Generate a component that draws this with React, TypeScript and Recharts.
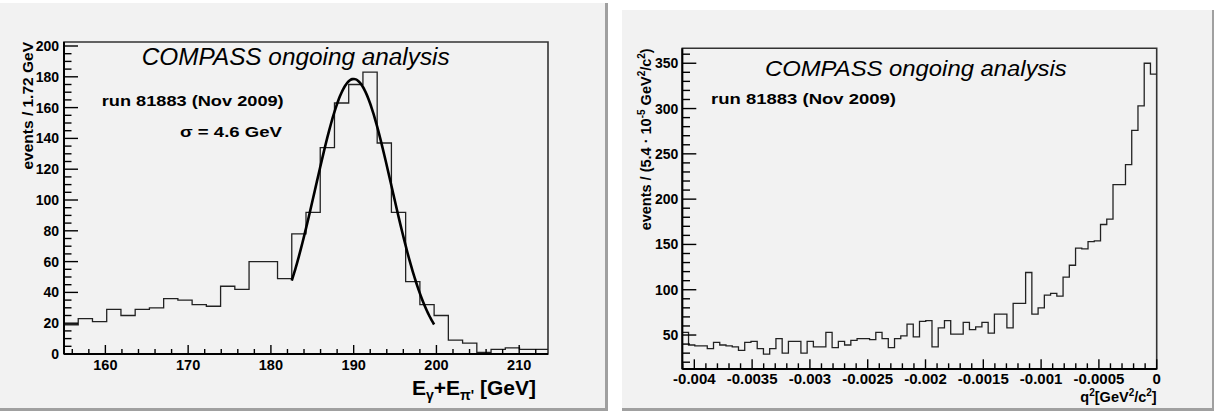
import React from 'react';
import { ComposedChart, Line, XAxis, YAxis, ReferenceArea } from 'recharts';

const FONT = '"Liberation Sans", Arial, Helvetica, sans-serif';

// ---------- Left histogram: E_gamma + E_pi' ----------
const E_BIN_START = 155;
const E_BIN_WIDTH = 1.72;
const E_COUNTS = [
  19, 23, 21, 29, 25, 29, 30, 36, 35, 32, 31, 44, 42, 60, 60, 49, 78, 92, 134,
  163, 175, 183, 137, 92, 47, 32, 25, 9, 7, 1, 3, 4, 3, 3,
];
const E_Y_MAX = 202.6;
const E_Y_TICKS = [0, 5, 10, 15, 20, 25, 30, 35, 40, 45, 50, 55, 60, 65, 70, 75, 80, 85, 90, 95, 100, 105, 110, 115, 120, 125, 130, 135, 140, 145, 150, 155, 160, 165, 170, 175, 180, 185, 190, 195, 200];
const E_X_TICKS = [156, 158, 160, 162, 164, 166, 168, 170, 172, 174, 176, 178, 180, 182, 184, 186, 188, 190, 192, 194, 196, 198, 200, 202, 204, 206, 208, 210, 212];

// Gaussian fit parameters (sigma = 4.6 GeV as printed on the plot)
const FIT_AMPLITUDE = 178.6;
const FIT_MEAN = 190.0;
const FIT_SIGMA = 4.6;
const FIT_FROM = 182.52;
const FIT_TO = 199.72;
const FIT_SAMPLES = 80;

// ---------- Right histogram: q^2 ----------
const Q_BIN_START = -0.004104;
const Q_BIN_WIDTH = 0.000054;
const Q_COUNTS = [
  53, 39, 38, 38, 35, 42, 39, 38, 37, 33,
  42, 43, 35, 29, 35, 46, 30, 43, 43, 30,
  43, 37, 37, 53, 36, 43, 39, 44, 46, 46,
  45, 53, 46, 36, 46, 49, 62, 48, 65, 66,
  37, 58, 66, 51, 51, 64, 56, 59, 64, 52,
  73, 73, 58, 85, 85, 119, 73, 80, 94, 96,
  93, 114, 127, 146, 145, 153, 154, 172, 178, 216,
  216, 238, 276, 303, 350, 338,
];
const Q_Y_MIN = 12.5;
const Q_Y_MAX = 366.5;
const Q_Y_TICKS = [20, 30, 40, 50, 60, 70, 80, 90, 100, 110, 120, 130, 140, 150, 160, 170, 180, 190, 200, 210, 220, 230, 240, 250, 260, 270, 280, 290, 300, 310, 320, 330, 340, 350, 360];
const Q_X_TICK_STEPS = [-41, -40, -39, -38, -37, -36, -35, -34, -33, -32, -31, -30, -29, -28, -27, -26, -25, -24, -23, -22, -21, -20, -19, -18, -17, -16, -15, -14, -13, -12, -11, -10, -9, -8, -7, -6, -5, -4, -3, -2, -1, 0];
const Q_X_TICK_UNIT = 0.0001;

// ---------- builders ----------
function histPoints(start: number, width: number, counts: number[]) {
  const pts = counts.map((c, i) => ({ x: start + i * width, y: c }));
  pts.push({ x: start + counts.length * width, y: counts[counts.length - 1] });
  return pts;
}

const eHist = histPoints(E_BIN_START, E_BIN_WIDTH, E_COUNTS);
const E_X_MAX = E_BIN_START + E_COUNTS.length * E_BIN_WIDTH;
const fitPoints = Array.from({ length: FIT_SAMPLES + 1 }, (_, i) => {
  const x = FIT_FROM + ((FIT_TO - FIT_FROM) * i) / FIT_SAMPLES;
  return { x, y: FIT_AMPLITUDE * Math.exp(-0.5 * ((x - FIT_MEAN) / FIT_SIGMA) ** 2) };
});

const qHist = histPoints(Q_BIN_START, Q_BIN_WIDTH, Q_COUNTS);
const Q_X_TICKS = Q_X_TICK_STEPS.map((k) => k * Q_X_TICK_UNIT);

const fmtQ = (v: number) => String(Number(v.toFixed(4)));

function makeYTick(isMajor: (v: number) => boolean, majorLen: number, minorLen: number, gap: number, fontSize: number) {
  return (props: any) => {
    const { x, y, payload } = props;
    const v = payload.value;
    const major = isMajor(v);
    return (
      <g>
        <line x1={x} y1={y} x2={x + (major ? majorLen : minorLen)} y2={y} stroke="#000" strokeWidth={1.4} />
        {major && (
          <text x={x - gap} y={y} dy="0.36em" textAnchor="end" fontFamily={FONT} fontWeight="bold" fontSize={fontSize} fill="#000">
            {String(v)}
          </text>
        )}
      </g>
    );
  };
}

function makeXTick(isMajor: (v: number) => boolean, majorLen: number, minorLen: number, gap: number, fmt: (v: number) => string, fontSize: number) {
  return (props: any) => {
    const { x, y, payload } = props;
    const v = payload.value;
    const major = isMajor(v);
    return (
      <g>
        <line x1={x} y1={y} x2={x} y2={y - (major ? majorLen : minorLen)} stroke="#000" strokeWidth={1.4} />
        {major && (
          <text x={x} y={y + gap} dy="0.36em" textAnchor="middle" fontFamily={FONT} fontWeight="bold" fontSize={fontSize} fill="#000">
            {fmt(v)}
          </text>
        )}
      </g>
    );
  };
}

const BG = '#f2f2f2';
const BORDER = '#a0a0a0';

function LeftPanel() {
  const W = 605;
  const H = 405;
  return (
    <div style={{ position: 'absolute', left: 0, top: 3, width: W, height: H, background: BG, borderRight: `3px solid ${BORDER}`, borderBottom: `3px solid ${BORDER}` }}>
      <ComposedChart width={W} height={H} margin={{ top: 39, right: 57, bottom: 53, left: 63 }}>
        <XAxis
          xAxisId="e"
          type="number"
          dataKey="x"
          domain={[E_BIN_START, E_X_MAX]}
          allowDataOverflow
          ticks={E_X_TICKS}
          interval={0}
          height={1}
          tickSize={0}
          tickMargin={0}
          tickLine={false}
          axisLine={{ stroke: '#000', strokeWidth: 2 }}
          tick={makeXTick((v) => v % 10 === 0, 9, 5, 10.5, (v) => String(v), 14.5)}
        />
        <YAxis
          yAxisId="e"
          type="number"
          domain={[0, E_Y_MAX]}
          allowDataOverflow
          ticks={E_Y_TICKS}
          interval={0}
          width={1}
          tickSize={0}
          tickMargin={0}
          tickLine={false}
          axisLine={{ stroke: '#000', strokeWidth: 2 }}
          tick={makeYTick((v) => v % 20 === 0, 14, 7.5, 5, 14)}
        />
        <ReferenceArea xAxisId="e" yAxisId="e" x1={E_BIN_START} x2={E_X_MAX} y1={0} y2={E_Y_MAX} fill="none" stroke="#333" strokeWidth={1.6} />
        <Line xAxisId="e" yAxisId="e" data={eHist} dataKey="y" type="stepAfter" stroke="#222" strokeWidth={1.3} dot={false} activeDot={false} isAnimationActive={false} />
        <Line xAxisId="e" yAxisId="e" data={fitPoints} dataKey="y" type="monotone" stroke="#000" strokeWidth={2.6} dot={false} activeDot={false} isAnimationActive={false} />
      </ComposedChart>
      <svg width={W} height={H} style={{ position: 'absolute', left: 0, top: 0, pointerEvents: 'none' }}>
        <text x={141.7} y={62} fontFamily={FONT} fontStyle="italic" fontSize={23} fill="#000" textLength={308} lengthAdjust="spacingAndGlyphs">
          COMPASS ongoing analysis
        </text>
        <text x={101.7} y={103} fontFamily={FONT} fontWeight="bold" fontSize={15.5} fill="#000" textLength={182} lengthAdjust="spacingAndGlyphs">
          run 81883 (Nov 2009)
        </text>
        <text x={180} y={134.3} fontFamily={FONT} fontWeight="bold" fontSize={15.5} fill="#000" textLength={102} lengthAdjust="spacingAndGlyphs">
          σ = 4.6 GeV
        </text>
        <text x={33} y={39} transform="rotate(-90 33 39)" textAnchor="end" fontFamily={FONT} fontWeight="bold" fontSize={15.5} fill="#000">
          events / 1.72 GeV
        </text>
        <text x={536} y={392} textAnchor="end" fontFamily={FONT} fontWeight="bold" fontSize={21} fill="#000">
          E<tspan fontSize={14} dy={5}>γ</tspan>
          <tspan dy={-5}>+E</tspan>
          <tspan fontSize={14} dy={5}>π'</tspan>
          <tspan dy={-5}> [GeV]</tspan>
        </text>
      </svg>
    </div>
  );
}

function RightPanel() {
  const W = 590;
  const H = 398;
  return (
    <div style={{ position: 'absolute', left: 622, top: 10, width: W, height: H, background: BG, borderRight: `2px solid ${BORDER}`, borderBottom: `3px solid ${BORDER}` }}>
      <ComposedChart width={W} height={H} margin={{ top: 38.3, right: 55.3, bottom: 38, left: 59.3 }}>
        <XAxis
          xAxisId="q"
          type="number"
          dataKey="x"
          domain={[Q_BIN_START, 0]}
          allowDataOverflow
          ticks={Q_X_TICKS}
          interval={0}
          height={1}
          tickSize={0}
          tickMargin={0}
          tickLine={false}
          axisLine={{ stroke: '#000', strokeWidth: 2 }}
          tick={makeXTick((v) => Math.round(v / Q_X_TICK_UNIT) % 5 === 0, 9.7, 5.7, 10, fmtQ, 15)}
        />
        <YAxis
          yAxisId="q"
          type="number"
          domain={[Q_Y_MIN, Q_Y_MAX]}
          allowDataOverflow
          ticks={Q_Y_TICKS}
          interval={0}
          width={1}
          tickSize={0}
          tickMargin={0}
          tickLine={false}
          axisLine={{ stroke: '#000', strokeWidth: 2 }}
          tick={makeYTick((v) => v % 50 === 0, 14, 7.7, 4, 14)}
        />
        <ReferenceArea xAxisId="q" yAxisId="q" x1={Q_BIN_START} x2={0} y1={Q_Y_MIN} y2={Q_Y_MAX} fill="none" stroke="#333" strokeWidth={1.6} />
        <Line xAxisId="q" yAxisId="q" data={qHist} dataKey="y" type="stepAfter" stroke="#222" strokeWidth={1.3} dot={false} activeDot={false} isAnimationActive={false} />
      </ComposedChart>
      <svg width={W} height={H} style={{ position: 'absolute', left: 0, top: 0, pointerEvents: 'none' }}>
        <text x={143} y={66} fontFamily={FONT} fontStyle="italic" fontSize={22} fill="#000" textLength={301.7} lengthAdjust="spacingAndGlyphs">
          COMPASS ongoing analysis
        </text>
        <text x={89} y={94.3} fontFamily={FONT} fontWeight="bold" fontSize={15.5} fill="#000" textLength={185} lengthAdjust="spacingAndGlyphs">
          run 81883 (Nov 2009)
        </text>
        <text x={29} y={38.3} transform="rotate(-90 29 38.3)" textAnchor="end" fontFamily={FONT} fontWeight="bold" fontSize={14.5} fill="#000">
          events / (5.4 · 10<tspan fontSize={10} dy={-6}>-5</tspan>
          <tspan dy={6}> GeV</tspan>
          <tspan fontSize={10} dy={-6}>2</tspan>
          <tspan dy={6}>/c</tspan>
          <tspan fontSize={10} dy={-6}>2</tspan>
          <tspan dy={6}>)</tspan>
        </text>
        <text x={534.7} y={391.7} textAnchor="end" fontFamily={FONT} fontWeight="bold" fontSize={14.5} fill="#000">
          q<tspan fontSize={10} dy={-6}>2</tspan>
          <tspan dy={6}>[GeV</tspan>
          <tspan fontSize={10} dy={-6}>2</tspan>
          <tspan dy={6}>/c</tspan>
          <tspan fontSize={10} dy={-6}>2</tspan>
          <tspan dy={6}>]</tspan>
        </text>
      </svg>
    </div>
  );
}

export default function App() {
  return (
    <div style={{ position: 'absolute', left: 0, top: 0, width: 1214, height: 412, background: '#fff', overflow: 'hidden' }}>
      <LeftPanel />
      <RightPanel />
    </div>
  );
}
